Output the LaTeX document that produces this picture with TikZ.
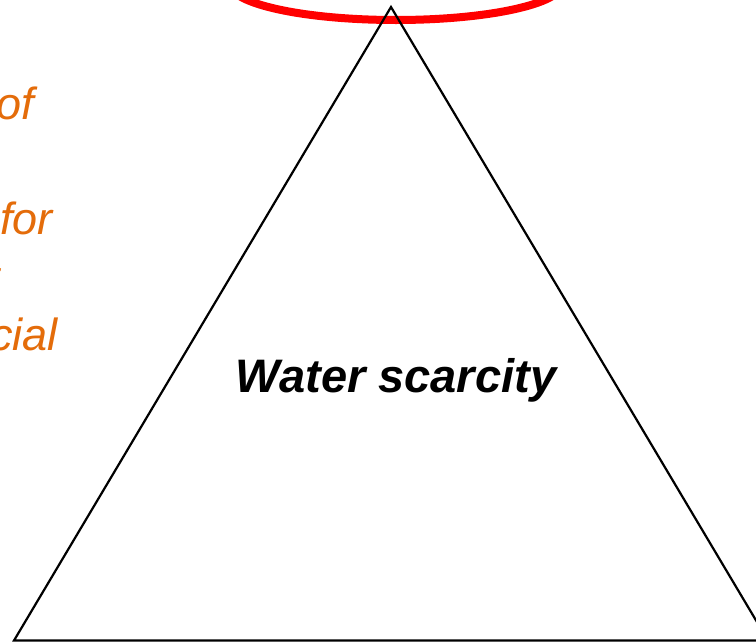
\documentclass[tikz,border=0pt]{standalone}
\usepackage{fontspec}
\setmainfont{Liberation Sans}
\definecolor{accentorange}{RGB}{228,108,10}
\definecolor{ringred}{RGB}{255,0,0}
\tikzset{
  sidetext/.style={inner sep=0pt, anchor=base east, text=accentorange,
    font=\fontsize{45}{52}\selectfont\itshape},
  titletext/.style={inner sep=0pt, anchor=base, text=black,
    font=\fontsize{47}{54}\selectfont\bfseries\itshape},
  ring/.style={draw=ringred, line width=8pt},
  outline/.style={draw=black, line width=2.2pt, line join=miter}
}
\begin{document}
\begin{tikzpicture}[x=1pt,y=-1pt]
  \useasboundingbox (0,0) rectangle (756,643);
  \clip (0,0) rectangle (756,643);
  \fill[white] (0,0) rectangle (756,643);
  % red ring (mostly outside the picture)
  \draw[ring] (396,-16) ellipse [x radius=166, y radius=36];
  % triangle
  \coordinate (apex) at (391,7);
  \coordinate (bl) at (14,640.5);
  \coordinate (br) at (768,640.5);
  \draw[outline] (apex) -- (bl) -- (br) -- cycle;
  % title
  \node[titletext] (title) at (396,392) {Water scarcity};
  % clipped side text
  \node[sidetext] (l1) at (34,119) {of};
  \node[sidetext] (l2) at (53,234) {for};
  \node[sidetext] (l3) at (0.5,292) {t};
  \node[sidetext] (l4) at (58,350) {cial};
\end{tikzpicture}
\end{document}
